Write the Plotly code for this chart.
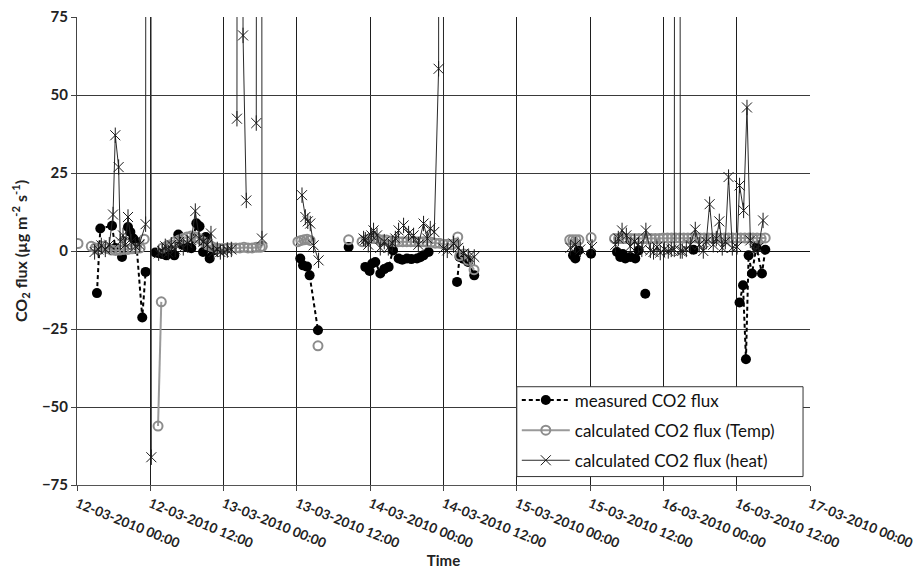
import plotly.graph_objects as go

# ---------------- data ----------------
meas_time = [
    "2010-03-12 03:16", "2010-03-12 03:49", "2010-03-12 05:44", "2010-03-12 06:16", "2010-03-12 07:22",
    "2010-03-12 08:21", "2010-03-12 08:44", "2010-03-12 09:13", "2010-03-12 09:42", "2010-03-12 10:41",
    "2010-03-12 11:14", None,
    "2010-03-12 12:49", "2010-03-12 13:22", "2010-03-12 13:58", "2010-03-12 14:37", "2010-03-12 15:16",
    "2010-03-12 15:56", "2010-03-12 16:35", "2010-03-12 17:14", "2010-03-12 18:04", "2010-03-12 18:43",
    "2010-03-12 19:32", "2010-03-12 20:04", "2010-03-12 20:38", "2010-03-12 21:05", "2010-03-12 21:43",
    "2010-03-12 22:19", None,
    "2010-03-13 12:33", "2010-03-13 13:00", "2010-03-13 13:39", "2010-03-13 14:05", "2010-03-13 15:27", None,
    "2010-03-13 20:28", None,
    "2010-03-13 23:12", "2010-03-13 23:54", "2010-03-14 00:20", "2010-03-14 00:50", "2010-03-14 01:39",
    "2010-03-14 02:18", "2010-03-14 03:01", "2010-03-14 03:44", "2010-03-14 04:39", "2010-03-14 05:15",
    "2010-03-14 06:01", "2010-03-14 06:44", "2010-03-14 07:40", "2010-03-14 08:12", "2010-03-14 08:44",
    "2010-03-14 09:34", None,
    "2010-03-14 14:13", "2010-03-14 14:38", "2010-03-14 15:14", "2010-03-14 16:01", "2010-03-14 17:02", None,
    "2010-03-15 09:12", "2010-03-15 09:35", "2010-03-15 10:07", None,
    "2010-03-15 12:09", None,
    "2010-03-15 16:24", "2010-03-15 16:56", "2010-03-15 17:21", "2010-03-15 17:46", "2010-03-15 18:35",
    "2010-03-15 19:24", "2010-03-15 19:56", None,
    "2010-03-15 21:02", None,
    "2010-03-16 04:56", None,
    "2010-03-16 12:28", "2010-03-16 13:02", "2010-03-16 13:31", "2010-03-16 13:57", "2010-03-16 14:30",
    "2010-03-16 15:13", "2010-03-16 16:08", "2010-03-16 16:41",
]
meas_flux = [
    -13.5, 7.2, 8.1, 1.0, -1.9,
    7.7, 6.1, 4.0, 2.9, -21.3,
    -6.7, None,
    -0.5, -0.7, -1.0, -1.4, 0.3,
    -1.4, 5.3, 2.0, 1.2, 0.9,
    8.9, 7.9, -0.3, 4.5, -2.4,
    0.2, None,
    -2.4, -4.6, -5.0, -7.8, -25.4, None,
    1.3, None,
    -5.1, -6.4, -4.0, -3.5, -7.2,
    -5.8, -5.1, 0.2, -2.4, -2.8,
    -2.4, -2.6, -2.4, -2.0, -1.4,
    -0.3, None,
    -9.9, -1.9, -2.5, -3.5, -7.8, None,
    -1.4, -2.4, 0.2, None,
    -0.9, None,
    -0.3, -1.9, -1.0, -2.4, -1.9,
    -2.4, 0.2, None,
    -13.7, None,
    0.4, None,
    -16.5, -11.0, -34.7, -1.4, -7.2,
    1.3, -7.2, 0.4,
]

temp_time = [
    "2010-03-12 00:10", None,
    "2010-03-12 02:20", "2010-03-12 03:00", "2010-03-12 03:40", "2010-03-12 04:20", "2010-03-12 05:00",
    "2010-03-12 05:40", "2010-03-12 06:20", "2010-03-12 07:00", "2010-03-12 07:40", "2010-03-12 08:20",
    "2010-03-12 09:00", "2010-03-12 09:40", "2010-03-12 10:20", "2010-03-12 11:00", None,
    "2010-03-12 13:16", "2010-03-12 13:48", None,
    "2010-03-12 14:00", "2010-03-12 14:40", "2010-03-12 15:20", "2010-03-12 16:00", "2010-03-12 16:40",
    "2010-03-12 17:20", "2010-03-12 18:00", "2010-03-12 18:40", "2010-03-12 19:20", "2010-03-12 20:00",
    "2010-03-12 20:40", "2010-03-12 21:20", "2010-03-12 22:00", "2010-03-12 22:40", "2010-03-12 23:20",
    "2010-03-13 00:00", "2010-03-13 00:40", "2010-03-13 01:20", "2010-03-13 02:00", "2010-03-13 02:40",
    "2010-03-13 03:20", "2010-03-13 04:00", "2010-03-13 04:40", "2010-03-13 05:20", "2010-03-13 06:00",
    "2010-03-13 06:20", None,
    "2010-03-13 12:10", "2010-03-13 12:40", "2010-03-13 13:10", "2010-03-13 13:40", "2010-03-13 14:10", None,
    "2010-03-13 15:27", None,
    "2010-03-13 20:28", None,
    "2010-03-13 22:40", "2010-03-13 23:20", "2010-03-14 00:00", "2010-03-14 00:40", "2010-03-14 01:20",
    "2010-03-14 02:00", "2010-03-14 02:40", "2010-03-14 03:20", "2010-03-14 04:00", "2010-03-14 04:40",
    "2010-03-14 05:20", "2010-03-14 06:00", "2010-03-14 06:40", "2010-03-14 07:20", "2010-03-14 08:00",
    "2010-03-14 08:40", "2010-03-14 09:20", "2010-03-14 10:00", "2010-03-14 10:40", "2010-03-14 11:20",
    "2010-03-14 12:00", "2010-03-14 12:40", "2010-03-14 13:20", "2010-03-14 14:00", "2010-03-14 14:20",
    "2010-03-14 14:40", "2010-03-14 15:20", "2010-03-14 16:00", "2010-03-14 17:00", None,
    "2010-03-15 08:40", "2010-03-15 09:10", "2010-03-15 09:40", "2010-03-15 10:10", None,
    "2010-03-15 12:10", None,
    "2010-03-15 16:00", "2010-03-15 16:40", "2010-03-15 17:20", "2010-03-15 18:00", "2010-03-15 18:40",
    "2010-03-15 19:20", "2010-03-15 20:00", "2010-03-15 20:40", "2010-03-15 21:20", "2010-03-15 22:00",
    "2010-03-15 22:40", "2010-03-15 23:20", "2010-03-16 00:00", "2010-03-16 00:40", "2010-03-16 01:20",
    "2010-03-16 02:00", "2010-03-16 02:40", "2010-03-16 03:20", "2010-03-16 04:00", "2010-03-16 04:40",
    "2010-03-16 05:20", "2010-03-16 06:00", "2010-03-16 06:40", "2010-03-16 07:20", "2010-03-16 08:00",
    "2010-03-16 08:40", "2010-03-16 09:20", "2010-03-16 10:00", "2010-03-16 10:40", "2010-03-16 11:20",
    "2010-03-16 12:00", "2010-03-16 12:40", "2010-03-16 13:20", "2010-03-16 14:00", "2010-03-16 14:40",
    "2010-03-16 15:20", "2010-03-16 16:00", "2010-03-16 16:40",
]
temp_flux = [
    2.4, None,
    1.5, 1.0, 0.5, 1.5, 0.8,
    0.3, 0.2, 0.3, 0.5, 0.5,
    0.7, 0.8, 1.0, 3.8, None,
    -56.1, -16.3, None,
    1.0, 1.5, 2.0, 3.0, 3.5,
    4.0, 4.5, 4.8, 4.5, 4.0,
    3.0, 2.0, 1.5, 1.0, 0.8,
    0.8, 1.0, 1.0, 1.0, 1.0,
    1.2, 1.0, 1.0, 1.2, 1.2,
    1.5, None,
    3.0, 3.4, 3.6, 3.8, 3.4, None,
    -30.4, None,
    3.6, None,
    3.0, 3.5, 4.0, 4.0, 3.8,
    3.5, 3.5, 3.2, 3.0, 3.0,
    3.0, 3.0, 3.0, 3.0, 3.0,
    3.0, 2.8, 2.8, 2.5, 2.5,
    2.2, 2.2, 2.0, 2.5, 4.5,
    -1.5, -1.0, -3.0, -6.0, None,
    3.6, 3.6, 3.6, 3.6, None,
    4.3, None,
    4.0, 4.0, 4.0, 4.0, 4.0,
    4.0, 4.0, 4.0, 4.0, 4.0,
    4.0, 4.0, 4.2, 4.2, 4.2,
    4.2, 4.2, 4.2, 4.2, 4.2,
    4.2, 4.2, 4.2, 4.2, 4.2,
    4.2, 4.2, 4.2, 4.2, 4.2,
    4.2, 4.2, 4.2, 4.2, 4.2,
    4.2, 4.0, 4.2,
]

heat_time = [
    "2010-03-12 02:53", "2010-03-12 03:29", "2010-03-12 03:59", "2010-03-12 04:38", "2010-03-12 05:17",
    "2010-03-12 05:54", "2010-03-12 06:16", "2010-03-12 06:49", "2010-03-12 07:05", "2010-03-12 07:32",
    "2010-03-12 07:54", "2010-03-12 08:21", "2010-03-12 08:53", "2010-03-12 09:33", "2010-03-12 10:12",
    "2010-03-12 11:14", "2010-03-12 11:38", "2010-03-12 12:10", None,
    "2010-03-12 13:22", "2010-03-12 13:58", "2010-03-12 14:27", "2010-03-12 14:57", "2010-03-12 15:26",
    "2010-03-12 16:05", "2010-03-12 16:45", "2010-03-12 17:24", "2010-03-12 18:04", "2010-03-12 18:43",
    "2010-03-12 19:22", "2010-03-12 20:01", "2010-03-12 20:41", "2010-03-12 21:20", "2010-03-12 21:56",
    "2010-03-12 22:22", "2010-03-12 22:58", "2010-03-12 23:28", "2010-03-13 00:00", "2010-03-13 00:37",
    "2010-03-13 01:16", None,
    "2010-03-13 02:11", "2010-03-13 02:40", "2010-03-13 03:11", "2010-03-13 03:43", None,
    "2010-03-13 05:21", "2010-03-13 05:50", "2010-03-13 06:17", None,
    "2010-03-13 12:50", "2010-03-13 13:23", "2010-03-13 13:47", "2010-03-13 14:11", "2010-03-13 14:44",
    "2010-03-13 15:33", None,
    "2010-03-13 22:55", "2010-03-13 23:12", "2010-03-13 23:41", "2010-03-14 00:11", "2010-03-14 00:33",
    "2010-03-14 01:07", "2010-03-14 01:39", "2010-03-14 02:18", "2010-03-14 02:58", "2010-03-14 03:37",
    "2010-03-14 04:07", "2010-03-14 04:39", "2010-03-14 05:28", "2010-03-14 06:17", "2010-03-14 07:06",
    "2010-03-14 07:53", "2010-03-14 08:44", "2010-03-14 09:21", "2010-03-14 09:50", "2010-03-14 10:29",
    "2010-03-14 11:12", "2010-03-14 11:36", "2010-03-14 12:01", "2010-03-14 12:37",
    "2010-03-14 13:39", "2010-03-14 14:25", "2010-03-14 15:17", "2010-03-14 16:07", "2010-03-14 17:02", None,
    "2010-03-15 08:46", "2010-03-15 09:35", "2010-03-15 10:24", None,
    "2010-03-15 12:19", None,
    "2010-03-15 16:08", "2010-03-15 16:37", "2010-03-15 17:14", "2010-03-15 17:56", "2010-03-15 18:35",
    "2010-03-15 19:15", "2010-03-15 19:54", "2010-03-15 20:28", "2010-03-15 21:08", "2010-03-15 21:52",
    "2010-03-15 22:23", "2010-03-15 22:57", "2010-03-15 23:29", "2010-03-16 00:09", "2010-03-16 00:48",
    "2010-03-16 01:17", "2010-03-16 01:47", "2010-03-16 02:16", "2010-03-16 02:46",
    "2010-03-16 03:05", "2010-03-16 03:45", "2010-03-16 04:24", "2010-03-16 05:13", "2010-03-16 05:52",
    "2010-03-16 06:32", "2010-03-16 07:01", "2010-03-16 07:34", "2010-03-16 08:10", "2010-03-16 08:40",
    "2010-03-16 09:09", "2010-03-16 09:38", "2010-03-16 10:08", "2010-03-16 10:40", "2010-03-16 11:17",
    "2010-03-16 12:03", "2010-03-16 12:28", "2010-03-16 13:08", "2010-03-16 13:41", "2010-03-16 14:14",
    "2010-03-16 14:53", "2010-03-16 15:32", "2010-03-16 16:19",
]
heat_flux = [
    -0.3, 0.5, 1.8, 0.5, 2.0,
    11.7, 37.1, 26.9, 3.0, 5.0,
    2.0, 10.9, 3.0, 1.5, 2.0,
    8.6, 1500, -66.1, None,
    -0.7, 0.0, 1.5, -0.5, 2.0,
    0.5, 3.0, 1.0, 2.5, 3.5,
    12.8, 4.0, 3.0, 2.0, 5.6,
    -0.3, 0.5, -0.3, -0.3, 0.3,
    0.5, None,
    42.4, 1500, 69.1, 16.2, None,
    41.0, 1500, 4.0, None,
    17.9, 10.9, 9.5, 8.8, 1.8,
    -3.0, None,
    4.0, 3.6, 2.0, 5.0, 6.6,
    5.0, 1.0, 3.0, 1.0, 2.5,
    4.0, 6.6, 8.2, 5.6, 5.0,
    2.0, 8.8, 4.0, 7.2, 6.1,
    58.4, 1500, 0.8, 0.2,
    2.4, 1.0, -0.8, -1.9, -1.9, None,
    1.0, 2.0, 0.5, None,
    1.3, None,
    2.0, 4.0, 6.6, 5.0, 1.5,
    3.0, 2.0, 0.5, 6.6, 0.2,
    -0.3, 1.3, -0.5, 0.5, 0.0,
    0.5, 0.5, 1500, 0.0,
    0.0, 0.5, 2.0, 6.9, 2.0,
    0.0, 3.0, 15.0, 2.0, 4.0,
    9.5, 1.0, 3.0, 23.7, 1.0,
    1.3, 21.0, 13.0, 46.0, 3.4,
    0.5, 1.0, 9.8,
]

x_ticks_start = "2010-03-12 00:00"
x_ticks_end = "2010-03-17 00:00"

FONT = "Lato, 'Open Sans', sans-serif"

fig = go.Figure()

fig.add_trace(go.Scatter(
    x=meas_time, y=meas_flux, mode="lines+markers", name="measured CO2 flux",
    line=dict(color="black", width=2, dash="4px,3px"),
    marker=dict(symbol="circle", size=10, color="black"),
    connectgaps=False, legendgroup="m",
))
fig.add_trace(go.Scatter(
    x=temp_time, y=temp_flux, mode="lines+markers", name="calculated CO2 flux (Temp)",
    line=dict(color="#9a9a9a", width=2),
    marker=dict(symbol="circle-open", size=9, color="#8c8c8c", line=dict(width=2)),
    connectgaps=False, legendgroup="t",
))
fig.add_trace(go.Scatter(
    x=heat_time, y=heat_flux, mode="lines+markers", name="calculated CO2 flux (heat)",
    line=dict(color="#2a2a2a", width=1),
    marker=dict(symbol="x-thin-open", size=10, color="#1a1a1a", line=dict(width=1)),
    connectgaps=False, legendgroup="h",
))
fig.add_trace(go.Scatter(
    x=heat_time, y=heat_flux, mode="markers", showlegend=False,
    marker=dict(symbol="line-ns-open", size=11, color="#1a1a1a", line=dict(width=1)),
    legendgroup="h", hoverinfo="skip",
))

# legend frame drawn as a white box over the plot (legend itself is transparent)
fig.add_shape(
    type="rect", xref="paper", yref="paper",
    x0=0.6, x1=0.9905, y0=0.018, y1=0.21,
    fillcolor="white", line=dict(color="#333", width=1), layer="above",
)

fig.update_layout(
    width=914, height=572,
    margin=dict(l=77, r=104, t=17, b=87),
    plot_bgcolor="white", paper_bgcolor="white",
    font=dict(family=FONT, color="#222"),
    showlegend=True,
    legend=dict(
        x=0.6, y=0.219, xanchor="left", yanchor="top",
        bgcolor="rgba(0,0,0,0)", borderwidth=0,
        font=dict(size=17, color="#111"), tracegroupgap=5, itemwidth=48,
    ),
)

fig.update_xaxes(
    type="date", range=[x_ticks_start, x_ticks_end], automargin=False,
    ticklabeloverflow="allow",
    tick0=x_ticks_start, dtick=43200000, tickformat="%d-%m-%Y %H:%M",
    tickangle=22, ticks="outside", ticklen=5, tickcolor="#444",
    showgrid=True, gridcolor="#1e1e1e", gridwidth=1,
    showline=True, linecolor="#555", linewidth=1,
    tickfont=dict(size=13.5, weight="bold", color="#222", family=FONT),
    title=dict(text="Time", font=dict(size=15, weight="bold", color="#222", family=FONT), standoff=2),
)
fig.update_yaxes(
    range=[-75, 75], tick0=0, dtick=25, automargin=False,
    ticks="outside", ticklen=5, tickcolor="#444",
    showgrid=True, gridcolor="#3a3a3a", gridwidth=1,
    zeroline=True, zerolinecolor="#111", zerolinewidth=1,
    showline=True, linecolor="#444", linewidth=1,
    tickfont=dict(size=15, weight="bold", color="#222", family=FONT),
    title=dict(text="CO<sub>2</sub> flux (µg m<sup>-2</sup> s<sup>-1</sup>)",
               font=dict(size=16, weight="bold", color="#222", family=FONT), standoff=10),
)

fig.write_html("out.html")
